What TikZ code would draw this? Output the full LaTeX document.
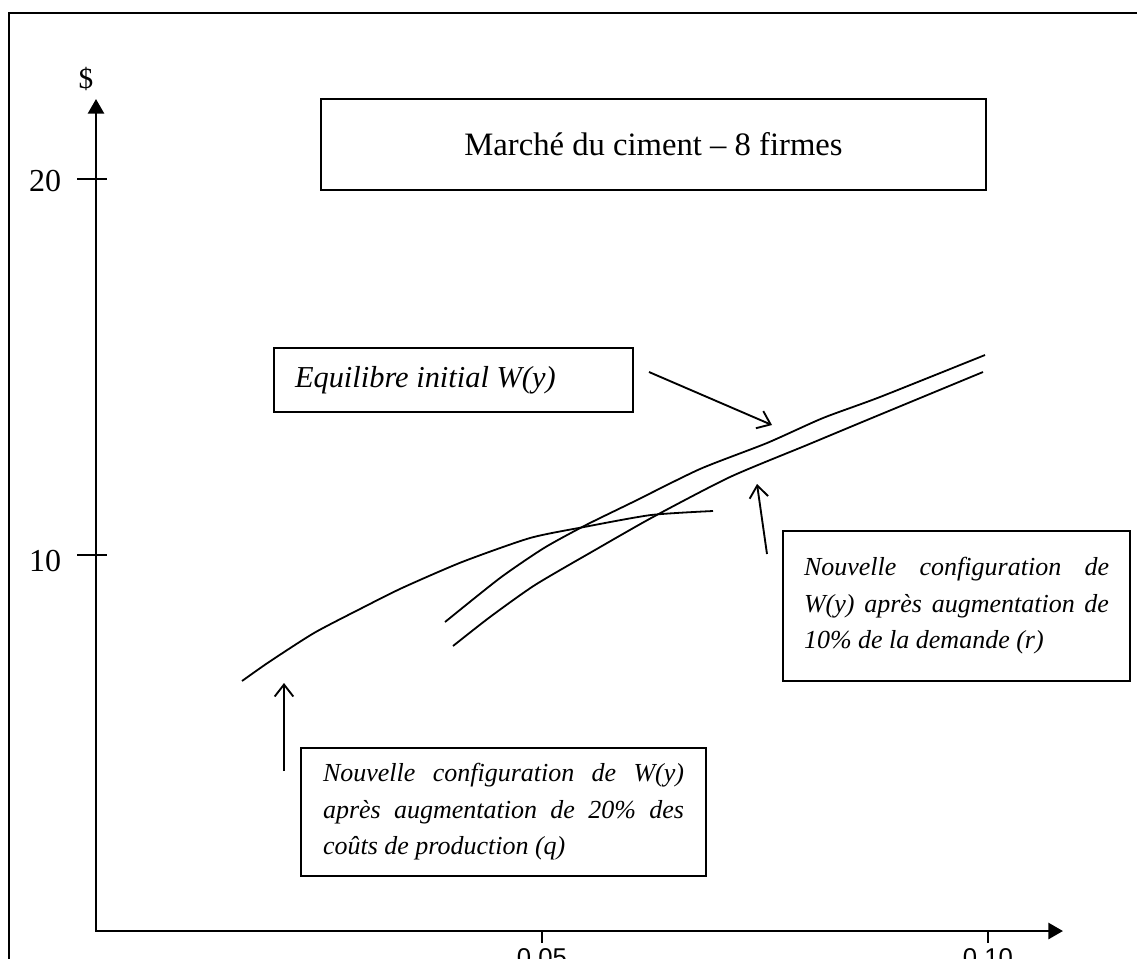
\documentclass[tikz,border=0pt]{standalone}
\usepackage{fontspec}
\setmainfont{Liberation Serif}
\newfontfamily\axisfont{Liberation Sans}
\usetikzlibrary{arrows.meta}
\begin{document}
\begin{tikzpicture}[x=0.75pt,y=-0.75pt,
  frame/.style={line width=1.6pt},
  axis/.style={line width=2.1pt},
  curve/.style={line width=1.35pt, line join=round},
  pointer/.style={line width=1.4pt,-{Straight Barb[length=9pt,width=14pt]}},
  box/.style={draw, line width=1.6pt, inner sep=0pt},
  tickmark/.style={line width=1.5pt},
  ylab/.style={font=\fontsize{24}{28}\selectfont},
  xlab/.style={anchor=base, font=\axisfont\fontsize{19.3}{22}\selectfont},
  boxtext/.style={font=\fontsize{19.5}{27.4}\selectfont\itshape}]
\useasboundingbox (0,0) rectangle (1137,958);
% outer frame
\draw[frame] (9,975) -- (9,13) -- (1150,13);
% axes
\coordinate (ytop) at (96,99);
\coordinate (O) at (96,931);
\coordinate (xend) at (1063,931);
\draw[axis,{Triangle[length=11pt,width=12pt]}-{Triangle[length=11pt,width=12pt]}] (ytop) -- (O) -- (xend);
\node[font=\fontsize{22}{24}\selectfont] (dollar) at (86,79) {\$};
% y ticks
\coordinate (t20a) at (77,179); \coordinate (t20b) at (107,179);
\coordinate (t10a) at (77,555); \coordinate (t10b) at (107,555);
\draw[tickmark] (t20a) -- (t20b);
\draw[tickmark] (t10a) -- (t10b);
\node[ylab] (l20) at (45,181) {20};
\node[ylab] (l10) at (45,561) {10};
% x ticks
\coordinate (t05a) at (542,931); \coordinate (t05b) at (542,943);
\coordinate (t10xa) at (988,931); \coordinate (t10xb) at (988,943);
\draw[tickmark] (t05a) -- (t05b);
\draw[tickmark] (t10xa) -- (t10xb);
\node[xlab] (l005) at (542,966) {0.05};
\node[xlab] (l010) at (988,966) {0.10};
% boxes
\node[box, minimum width=498.75pt, minimum height=68.25pt, font=\fontsize{24.5}{28}\selectfont] (title) at (653.5,144.5) {Marché du ciment – 8 firmes};
\node[box, minimum width=269.25pt, minimum height=48pt, font=\fontsize{22.8}{26}\selectfont] (eq) at (453.5,380) {\makebox[237.75pt][l]{\itshape Equilibre initial W(y)}};
\node[box, boxtext, minimum width=260.25pt, minimum height=112.5pt] (rbox) at (956.5,606) {\parbox{228.75pt}{\tolerance=10000\hbadness=10000 Nouvelle configuration de\linebreak W(y) après augmentation de\linebreak 10\% de la demande (r)}};
\node[box, boxtext, minimum width=303.75pt, minimum height=96pt] (bbox) at (503.5,812) {\parbox{270.75pt}{\tolerance=10000\hbadness=10000 Nouvelle configuration de W(y)\linebreak après augmentation de 20\% des\linebreak coûts de production (q)}};
% curves
\draw[curve] plot[smooth,tension=0.4] coordinates {(242,681) (269,662) (314,633) (360,609) (402,588) (462,562) (530,538) (584,527) (651,515) (713,511)};
\draw[curve] plot[smooth,tension=0.4] coordinates {(445,622) (500,578) (544,548) (586,525) (633,502) (700,469) (767,443) (823,418) (880,397) (985,355)};
\draw[curve] plot[smooth,tension=0.4] coordinates {(453,646) (490,617) (535,585) (595,550) (653,517) (730,477) (807,445) (867,420) (983,372)};
% pointers
\coordinate (p1s) at (649,372); \coordinate (p1e) at (772,425);
\coordinate (p2s) at (767,554); \coordinate (p2e) at (757,484);
\coordinate (p3s) at (284,771); \coordinate (p3e) at (284,683);
\draw[pointer] (p1s) -- (p1e);
\draw[pointer] (p2s) -- (p2e);
\draw[pointer] (p3s) -- (p3e);
\end{tikzpicture}
\end{document}
